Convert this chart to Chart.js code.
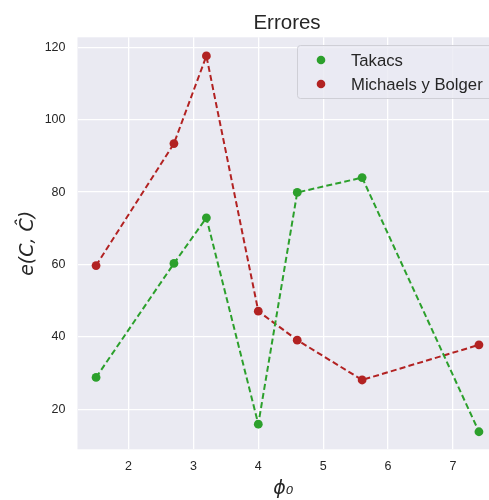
<!DOCTYPE html>
<html>
<head>
<meta charset="utf-8">
<script src="https://cdn.jsdelivr.net/npm/chart.js@4/dist/chart.umd.min.js"></script>
<style>
  html, body { margin: 0; padding: 0; background: #ffffff; overflow: hidden; }
  canvas { display: block; }
</style>
</head>
<body>
<canvas id="chart" width="489" height="500"></canvas>
<script>
// Error e(C, Ĉ) for each initial value phi_0
const phi0 = [1.5, 2.7, 3.2, 4.0, 4.6, 5.6, 7.4];
const takacs = [28.8, 60.3, 72.9, 15.9, 79.9, 84.0, 13.8];
const michaelsBolger = [59.7, 93.4, 117.6, 47.1, 39.1, 28.1, 37.8];
const seriesNames = ['Takacs', 'Michaels y Bolger'];
const xTicks = [2, 3, 4, 5, 6, 7];
const yTicks = [20, 40, 60, 80, 100, 120];

const GREEN = '#2ca02c';
const RED = '#b22222';
const TEXT = '#262626';

Chart.defaults.font.family = "'Liberation Sans', Arial, sans-serif";
Chart.defaults.color = TEXT;

const toPoints = ys => phi0.map((x, i) => ({ x: x, y: ys[i] }));

// grey panel behind the grid
const plotBackground = {
  id: 'plotBackground',
  beforeDraw(chart) {
    const { ctx, chartArea: a } = chart;
    ctx.save();
    ctx.fillStyle = '#eaeaf2';
    ctx.fillRect(a.left, a.top, a.right - a.left, a.bottom - a.top);
    ctx.restore();
  }
};

// title centred over the full panel
const panelTitle = {
  id: 'panelTitle',
  afterDraw(chart) {
    const { ctx } = chart;
    ctx.save();
    ctx.fillStyle = TEXT;
    ctx.font = "20.5px 'Liberation Sans', Arial, sans-serif";
    ctx.textAlign = 'center';
    ctx.textBaseline = 'middle';
    ctx.fillText('Errores', 287, 23);
    ctx.restore();
  }
};

// framed legend in the upper right corner of the panel
const boxLegend = {
  id: 'boxLegend',
  afterDatasetsDraw(chart) {
    const { ctx } = chart;
    const x0 = 297, y0 = 45, w = 230, h = 53, r = 3;
    ctx.save();
    ctx.beginPath();
    ctx.roundRect(x0 + 0.5, y0 + 0.5, w, h, r);
    ctx.fillStyle = 'rgba(234,234,242,0.8)';
    ctx.fill();
    ctx.strokeStyle = '#cfcfd6';
    ctx.lineWidth = 1;
    ctx.stroke();
    ctx.font = "16.7px 'Liberation Sans', Arial, sans-serif";
    ctx.textBaseline = 'middle';
    ctx.textAlign = 'left';
    chart.data.datasets.forEach((ds, i) => {
      const cy = 60 + i * 24;
      ctx.beginPath();
      ctx.arc(321, cy, 4.3, 0, Math.PI * 2);
      ctx.fillStyle = ds.pointBackgroundColor;
      ctx.fill();
      ctx.fillStyle = TEXT;
      ctx.fillText(ds.label, 351, cy + 1);
    });
    ctx.restore();
  }
};

const lineStyle = color => ({
  borderColor: color,
  backgroundColor: color,
  pointBackgroundColor: color,
  pointBorderColor: color,
  pointBorderWidth: 0,
  pointRadius: 4.4,
  pointHoverRadius: 4.4,
  borderWidth: 2,
  borderDash: [6, 3.2],
  fill: false,
  tension: 0,
  showLine: true
});

new Chart(document.getElementById('chart'), {
  type: 'scatter',
  data: {
    datasets: [
      Object.assign({ label: seriesNames[0], data: toPoints(takacs) }, lineStyle(GREEN)),
      Object.assign({ label: seriesNames[1], data: toPoints(michaelsBolger) }, lineStyle(RED))
    ]
  },
  options: {
    responsive: false,
    animation: false,
    events: [],
    layout: { autoPadding: false, padding: { top: 37.3, right: 0, left: 0, bottom: 0 } },
    plugins: {
      legend: { display: false },
      title: { display: false },
      tooltip: { enabled: false }
    },
    scales: {
      x: {
        type: 'linear',
        min: 1.214,
        max: 7.555,
        afterBuildTicks: s => { s.ticks = xTicks.map(v => ({ value: v })); },
        afterFit: s => { s.height = 50.7; s.paddingLeft = 0; s.paddingRight = 0; },
        grid: { color: '#ffffff', lineWidth: 1.3, drawTicks: false },
        border: { display: false },
        ticks: { padding: 10, font: { size: 12.5 }, color: TEXT, maxRotation: 0 },
        title: {
          display: true,
          text: 'ϕ₀',
          color: TEXT,
          font: { family: "'DejaVu Sans', sans-serif", style: 'italic', size: 19 },
          padding: { top: 0, bottom: 0 }
        }
      },
      y: {
        type: 'linear',
        min: 8.95,
        max: 122.76,
        afterBuildTicks: s => { s.ticks = yTicks.map(v => ({ value: v })); },
        afterFit: s => { s.width = 77.5; s.paddingTop = 0; s.paddingBottom = 0; },
        grid: { color: '#ffffff', lineWidth: 1.3, drawTicks: false },
        border: { display: false },
        ticks: { padding: 12, font: { size: 12.5 }, color: TEXT },
        title: {
          display: true,
          text: 'e(C, Ĉ)',
          color: TEXT,
          font: { family: "'DejaVu Sans', sans-serif", style: 'italic', size: 19 },
          padding: { top: 17, bottom: 4 }
        }
      }
    }
  },
  plugins: [plotBackground, panelTitle, boxLegend]
});
</script>
</body>
</html>
